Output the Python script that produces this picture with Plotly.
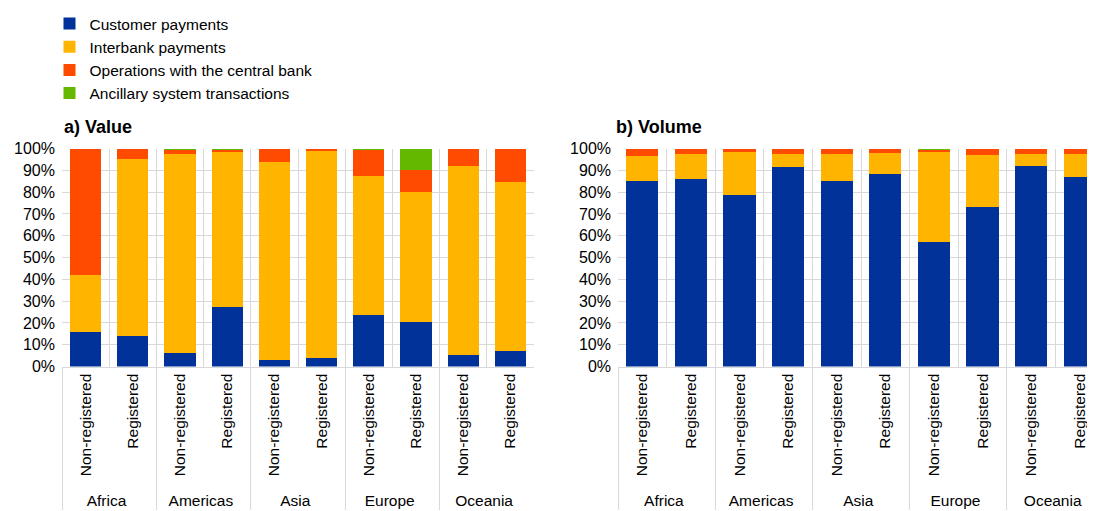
import plotly.graph_objects as go

# The page body has an 8px margin, so paper coordinates = screen - 8
W, H = 1096, 511
OFF = 8

regions = ["Africa", "Americas", "Asia", "Europe", "Oceania"]
statuses = ["Non-registered", "Registered"]
series_names = ["Customer payments", "Interbank payments",
                "Operations with the central bank", "Ancillary system transactions"]
colors = ["#003299", "#FFB400", "#FF4B00", "#65B800"]

# a) Value (% share), order: Africa NR, Africa R, Americas NR, Americas R, ...
value_customer = [15.7, 14.2, 6.0, 27.3, 3.0, 3.7, 23.8, 20.6, 5.3, 7.0]
value_interbank = [26.3, 81.0, 91.6, 71.7, 90.6, 95.8, 63.7, 59.5, 86.8, 77.8]
value_central = [58.0, 4.8, 2.1, 0.8, 6.4, 0.5, 12.1, 9.9, 7.9, 15.2]
value_ancillary = [0.0, 0.0, 0.3, 0.2, 0.0, 0.0, 0.4, 10.0, 0.0, 0.0]

# b) Volume (% share)
volume_customer = [85.0, 86.1, 78.8, 91.3, 85.0, 88.2, 57.3, 73.0, 91.8, 86.9]
volume_interbank = [11.6, 11.2, 19.4, 6.3, 12.6, 9.7, 41.1, 23.9, 5.8, 10.7]
volume_central = [3.4, 2.7, 1.8, 2.4, 2.4, 2.1, 1.3, 3.1, 2.4, 2.4]
volume_ancillary = [0.0, 0.0, 0.0, 0.0, 0.0, 0.0, 0.3, 0.0, 0.0, 0.0]

y_ticks = [0, 10, 20, 30, 40, 50, 60, 70, 80, 90, 100]
tick_text = [f"{t}%" for t in y_ticks]

x_outer = [r for r in regions for _ in statuses]
x_inner = [s for _ in regions for s in statuses]
x_multi = [x_outer, x_inner]

FONT = "Liberation Sans, Arial, sans-serif"
GRID = "#d9d9d9"

fig = go.Figure()
value_series = [value_customer, value_interbank, value_central, value_ancillary]
volume_series = [volume_customer, volume_interbank, volume_central, volume_ancillary]
for i, name in enumerate(series_names):
    fig.add_trace(go.Bar(x=x_multi, y=value_series[i], name=name,
                         marker=dict(color=colors[i], line=dict(width=0)),
                         xaxis="x", yaxis="y", showlegend=True))
for i, name in enumerate(series_names):
    fig.add_trace(go.Bar(x=x_multi, y=volume_series[i], name=name,
                         marker=dict(color=colors[i], line=dict(width=0)),
                         xaxis="x2", yaxis="y2", showlegend=False))


def px_x(sx):
    return (sx - OFF) / W


def px_y(sy):
    return 1 - (sy - OFF) / H


y_dom = [px_y(366.5), px_y(148.5)]
xcommon = dict(type="multicategory", tickson="boundaries", showgrid=True,
               gridcolor=GRID, gridwidth=1, showdividers=True,
               dividercolor=GRID, dividerwidth=1, tickangle=-90,
               showline=True, linecolor=GRID, linewidth=1, ticks="",
               tickfont=dict(family=FONT, size=15.5, color="#000000"),
               automargin=False, fixedrange=True, range=[-0.5, 9.5])
ycommon = dict(range=[0, 100], tickvals=y_ticks, ticktext=tick_text,
               showgrid=True, gridcolor=GRID, gridwidth=1, zeroline=False,
               showline=False, ticks="", ticklabelstandoff=6,
               tickfont=dict(family=FONT, size=16, color="#000000"),
               automargin=False, fixedrange=True, domain=y_dom)

fig.update_layout(
    width=W, height=H,
    margin=dict(l=0, r=0, t=0, b=0, autoexpand=False),
    paper_bgcolor="white", plot_bgcolor="white",
    barmode="stack", bargap=0.34,
    font=dict(family=FONT, size=16, color="#000000"),
    xaxis=dict(domain=[px_x(62), px_x(534)], anchor="y", **xcommon),
    yaxis=dict(anchor="x", **ycommon),
    xaxis2=dict(domain=[px_x(618), 1.0], anchor="y2", **xcommon),
    yaxis2=dict(anchor="x2", **ycommon),
    legend=dict(x=px_x(49.5), y=px_y(7), xanchor="left", yanchor="top",
                orientation="v", bgcolor="rgba(0,0,0,0)", borderwidth=0,
                font=dict(family=FONT, size=15.5, color="#000000"),
                traceorder="normal"),
    annotations=[
        dict(text="<b>a) Value</b>", x=px_x(62), y=px_y(127), xref="paper", yref="paper",
             xanchor="left", yanchor="middle", showarrow=False,
             font=dict(family=FONT, size=18, color="#000000")),
        dict(text="<b>b) Volume</b>", x=px_x(614), y=px_y(127), xref="paper", yref="paper",
             xanchor="left", yanchor="middle", showarrow=False,
             font=dict(family=FONT, size=18, color="#000000")),
    ],
)

fig.write_html("out.html", config={"displayModeBar": False})
